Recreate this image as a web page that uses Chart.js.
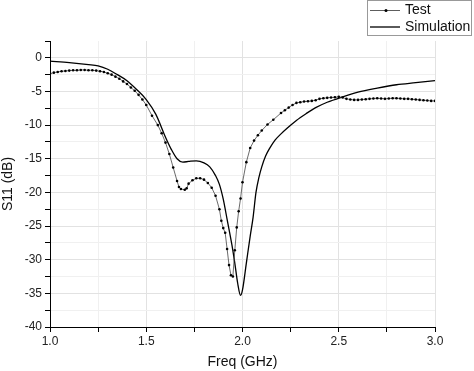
<!DOCTYPE html>
<html>
<head>
<meta charset="utf-8">
<script src="https://cdn.jsdelivr.net/npm/chart.js@4/dist/chart.umd.min.js"></script>
<style>
  html, body { margin: 0; padding: 0; background: #fff; }
  #grafica { display: block; }
</style>
</head>
<body>
<canvas id="grafica" width="474" height="371"></canvas>
<script>
// Datos medidos (Test)
const freqTest = [1.00, 1.02, 1.04, 1.06, 1.08, 1.10, 1.12, 1.14, 1.16, 1.18,
  1.20, 1.22, 1.24, 1.26, 1.28, 1.30, 1.32, 1.34, 1.36, 1.38,
  1.40, 1.42, 1.44, 1.46, 1.48, 1.50, 1.53, 1.56, 1.58, 1.60,
  1.62, 1.64, 1.66, 1.67, 1.68, 1.70, 1.71, 1.72, 1.74, 1.76,
  1.78, 1.80, 1.82, 1.84, 1.86, 1.88, 1.89, 1.90, 1.91, 1.92,
  1.93, 1.94, 1.95, 1.96, 1.97, 1.98, 1.99, 2.00, 2.02, 2.04,
  2.06, 2.08, 2.10, 2.13, 2.16, 2.20, 2.22, 2.24, 2.26, 2.28,
  2.30, 2.32, 2.34, 2.36, 2.38, 2.40, 2.42, 2.44, 2.46, 2.48,
  2.50, 2.52, 2.54, 2.56, 2.58, 2.60, 2.62, 2.64, 2.66, 2.68,
  2.70, 2.72, 2.74, 2.76, 2.78, 2.80, 2.82, 2.84, 2.86, 2.88,
  2.90, 2.92, 2.94, 2.96, 2.98, 3.00];
const s11Test = [-2.35, -2.2, -2.1, -2.0, -1.95, -1.9, -1.85, -1.85, -1.8, -1.8,
  -1.85, -1.85, -1.9, -2.0, -2.1, -2.3, -2.5, -2.8, -3.1, -3.5,
  -3.9, -4.4, -4.9, -5.5, -6.2, -7.0, -8.6, -10.0, -11.2, -12.6,
  -14.3, -16.3, -18.3, -19.2, -19.5, -19.6, -19.4, -18.7, -18.2, -17.9,
  -17.9, -18.1, -18.6, -19.3, -20.5, -22.5, -24.2, -25.3, -26.0, -28.4,
  -30.8, -32.3, -32.5, -28.6, -25.2, -22.8, -20.9, -18.5, -15.5, -13.4,
  -12.3, -11.5, -10.8, -9.9, -9.2, -8.2, -7.8, -7.4, -7.0, -6.7,
  -6.6, -6.5, -6.45, -6.4, -6.3, -6.1, -6.0, -5.95, -5.9, -5.85,
  -5.8, -5.9, -6.1, -6.2, -6.25, -6.25, -6.2, -6.15, -6.1, -6.05,
  -6.0, -6.05, -6.1, -6.05, -6.0, -6.0, -6.05, -6.1, -6.1, -6.15,
  -6.2, -6.25, -6.3, -6.35, -6.4, -6.4];

// Datos simulados
const freqSim = [1.00, 1.10, 1.20, 1.25, 1.30, 1.35, 1.40, 1.45, 1.50, 1.55,
  1.60, 1.63, 1.66, 1.69, 1.72, 1.76, 1.80, 1.83, 1.86, 1.88,
  1.90, 1.92, 1.945, 1.96, 1.975, 1.99, 2.00, 2.02, 2.04, 2.055,
  2.07, 2.085, 2.10, 2.12, 2.14, 2.17, 2.20, 2.23, 2.28, 2.33,
  2.38, 2.44, 2.52, 2.60, 2.70, 2.80, 2.90, 3.00];
const s11Sim = [-0.5, -0.7, -1.0, -1.2, -1.7, -2.5, -3.4, -4.7, -6.2, -8.4,
  -11.8, -13.6, -15.0, -15.5, -15.4, -15.3, -15.6, -16.2, -17.5, -18.8,
  -21.0, -24.0, -27.8, -30.5, -33.5, -35.3, -34.5, -30.5, -26.5, -23.7,
  -20.0, -17.8, -16.2, -14.6, -13.5, -12.2, -11.3, -10.5, -9.3, -8.3,
  -7.4, -6.6, -5.8, -5.1, -4.5, -4.0, -3.7, -3.4];

const legendLabels = ['Test', 'Simulation'];

function toPoints(xs, ys) {
  return xs.map((x, i) => ({ x: x, y: ys[i] }));
}

// Leyenda dibujada a mano en la esquina
const legendBox = {
  id: 'legendBox',
  afterDraw(chart) {
    const c = chart.ctx;
    c.save();
    c.fillStyle = '#fff';
    c.fillRect(367.5, 0.5, 104, 35);
    c.strokeStyle = '#999';
    c.lineWidth = 1;
    c.strokeRect(367.5, 0.5, 104, 35);
    c.strokeStyle = '#333';
    c.lineWidth = 0.8;
    c.beginPath(); c.moveTo(370, 10.5); c.lineTo(400, 10.5); c.stroke();
    c.fillStyle = '#000';
    c.beginPath(); c.arc(386, 10.5, 1.5, 0, Math.PI * 2); c.fill();
    c.strokeStyle = '#000';
    c.lineWidth = 1.3;
    c.beginPath(); c.moveTo(370, 27); c.lineTo(400, 27); c.stroke();
    c.font = '14px "Liberation Sans", Arial, sans-serif';
    c.textBaseline = 'middle';
    c.fillStyle = '#111';
    c.fillText(legendLabels[0], 405, 10.5);
    c.fillText(legendLabels[1], 405, 27);
    c.restore();
  }
};

const font = { family: '"Liberation Sans", Arial, sans-serif' };

new Chart(document.getElementById('grafica').getContext('2d'), {
  type: 'line',
  data: {
    datasets: [{
      label: legendLabels[0],
      data: toPoints(freqTest, s11Test),
      borderColor: '#444',
      borderWidth: 0.8,
      pointRadius: 1.3,
      pointBackgroundColor: '#000',
      pointBorderWidth: 0,
      tension: 0
    }, {
      label: legendLabels[1],
      data: toPoints(freqSim, s11Sim),
      borderColor: '#000',
      borderWidth: 1.3,
      pointRadius: 0,
      cubicInterpolationMode: 'monotone'
    }]
  },
  options: {
    responsive: false,
    animation: false,
    layout: { padding: { top: 41, right: 39, left: 0, bottom: 0 } },
    plugins: { legend: { display: false }, tooltip: { enabled: false } },
    scales: {
      x: {
        type: 'linear',
        min: 1, max: 3,
        afterFit(scale) { scale.height = 44; },
        border: { color: '#000', width: 1 },
        grid: {
          color: (ctx) => (Math.abs(ctx.tick.value * 2 - Math.round(ctx.tick.value * 2)) < 1e-6 ? '#e2e2e2' : '#f0f0f0'),
          tickColor: '#000',
          tickLength: 5
        },
        ticks: {
          stepSize: 0.25,
          maxRotation: 0,
          autoSkip: false,
          padding: 2,
          color: '#222',
          font: { ...font, size: 12 },
          callback: (v) => (Math.abs(v * 2 - Math.round(v * 2)) < 1e-6 ? v.toFixed(1) : '')
        },
        title: { display: true, text: 'Freq (GHz)', color: '#111', font: { ...font, size: 14 }, padding: { top: 2, bottom: 0 } }
      },
      y: {
        min: -40, max: 2.5,
        afterFit(scale) { scale.width = 50; },
        border: { color: '#000', width: 1 },
        grid: {
          color: (ctx) => {
            const v = ctx.tick.value;
            if (v > 0) return 'rgba(0,0,0,0)';
            return v % 5 === 0 ? '#e2e2e2' : '#f0f0f0';
          },
          tickColor: '#000',
          tickLength: 5
        },
        ticks: {
          stepSize: 2.5,
          autoSkip: false,
          padding: 3,
          color: '#222',
          font: { ...font, size: 12 },
          callback: (v) => (v % 5 === 0 && v <= 0 ? String(v) : '')
        },
        title: { display: true, text: 'S11 (dB)', color: '#111', font: { ...font, size: 14 }, padding: { top: 0, bottom: 2 } }
      }
    }
  },
  plugins: [legendBox]
});
</script>
</body>
</html>
